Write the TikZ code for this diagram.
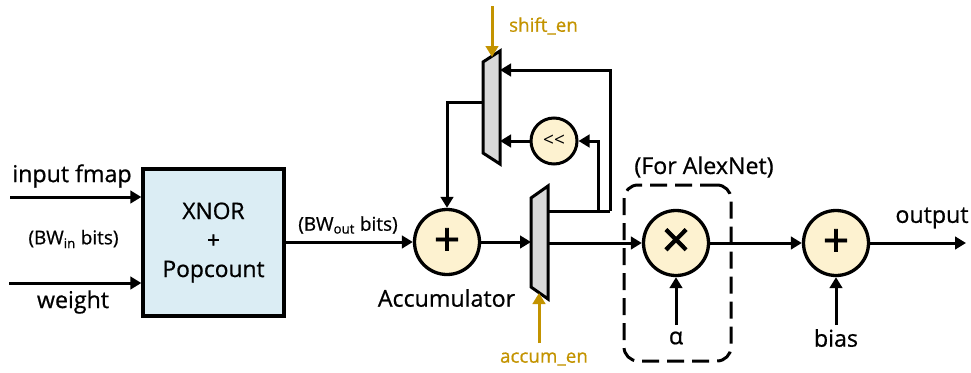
\documentclass[tikz,border=0pt]{standalone}
\usepackage{fontspec}
\setmainfont{Open Sans}
\newfontfamily\medf{Open Sans}[FakeBold=0.7]
\newfontfamily\symf{Open Sans}[FakeBold=1.6]
\usetikzlibrary{arrows.meta,calc}
\definecolor{gold}{HTML}{C39300}
\definecolor{cream}{HTML}{FDF2D0}
\definecolor{lblue}{HTML}{DBEDF4}
\definecolor{mgray}{HTML}{D9D9D9}
\tikzset{
  x=1pt,y=-1pt,
  wire/.style={line width=3pt,-{Triangle[length=11pt,width=12.5pt]}},
  plain/.style={line width=3pt},
  goldwire/.style={line width=3pt,draw=gold,-{Triangle[length=11pt,width=12.5pt]}},
  opcirc/.style={circle,draw,line width=3.3pt,fill=cream,minimum size=65pt,inner sep=0pt},
  muxshape/.style={draw,line width=3pt,fill=mgray,line join=miter},
  lblm/.style={inner sep=0pt,font=\medf\fontsize{23.2}{26}\selectfont},
  small/.style={inner sep=0pt,font=\medf\fontsize{19}{22}\selectfont},
  en/.style={inner sep=0pt,text=gold,font=\medf\fontsize{18.8}{22}\selectfont},
}
\begin{document}
\begin{tikzpicture}
\useasboundingbox (0,0) rectangle (971,372);
% core block
\node[draw,line width=3.3pt,fill=lblue,minimum width=141pt,minimum height=147pt,inner sep=0pt,
      align=center,font=\medf\fontsize{22.8}{29}\selectfont] (core) at (213.5,242.5) {XNOR\\+\\Popcount};
% operators
\node[opcirc,font=\symf\fontsize{46}{46}\selectfont] (add1) at (447,242) {+};
\node[opcirc,font=\symf\fontsize{50}{50}\selectfont] (mul) at (676,243) {×};
\node[opcirc,font=\symf\fontsize{46}{46}\selectfont] (add2) at (836,243) {+};
\node[circle,draw,line width=3pt,fill=cream,minimum size=46pt,inner sep=0pt,font=\fontsize{19}{19}\selectfont] (shift) at (554,141) {<{}<};
% muxes
\coordinate (m1a) at (483,62); \coordinate (m1b) at (500,51);
\coordinate (m1c) at (500,164); \coordinate (m1d) at (483,153);
\draw[muxshape] (m1a) -- (m1b) -- (m1c) -- (m1d) -- cycle;
\coordinate (m2a) at (531,198); \coordinate (m2b) at (548,186);
\coordinate (m2c) at (548,299); \coordinate (m2d) at (531,287);
\draw[muxshape] (m2a) -- (m2b) -- (m2c) -- (m2d) -- cycle;
% free ends and junctions
\coordinate (in1) at (10,197); \coordinate (in2) at (9,283);
\coordinate (out) at (966,243);
\coordinate (m1out) at (483,102);
\coordinate (m1in1) at (500,70);
\coordinate (m2outu) at (548,211);
\coordinate (m2in) at (531,242);
\coordinate (m2out) at (548,243);
\coordinate (tap) at (598,211);
\coordinate (fb) at (610,211);
\coordinate (alphaend) at (676,325);
\coordinate (biasend) at (836,325);
\coordinate (shiften) at (492,6);
\coordinate (shifttip) at (492,57);
\coordinate (accumen) at (539,343);
\coordinate (accumtip) at (539,293);
% labels
\node[lblm] (t1) at (72,176) {input fmap};
\node[lblm] (t2) at (73,302) {weight};
\node[small] (t3) at (73.5,239) {(BW\textsubscript{in} bits)};
\node[small] (t4) at (348,225) {(BW\textsubscript{out} bits)};
\node[lblm] (t5) at (446.5,298) {Accumulator};
\node[lblm] (t6) at (704,167) {(For AlexNet)};
\node[lblm] (t7) at (932,218) {output};
\node[lblm] (t8) at (676,338) {α};
\node[lblm] (t9) at (836,338) {bias};
\node[en] (t10) at (543.5,26) {shift\_en};
\node[en] (t11) at (544,359) {accum\_en};
% dashed group
\node[draw,line width=3pt,dash pattern=on 17pt off 8pt,rounded corners=14pt,minimum width=107pt,minimum height=176pt,inner sep=0pt] (grp) at (677.5,273) {};
% connectors
\draw[wire] (in1) -- (in1 -| core.west);
\draw[wire] (in2) -- (in2 -| core.west);
\draw[wire] (core.east |- add1.west) -- (add1.west);
\draw[wire] (add1.east) -- (m2in);
\draw[wire] (m2out) -- (mul.west);
\draw[wire] (mul.east) -- (add2.west);
\draw[wire] (add2.east) -- (out);
\draw[wire] (alphaend) -- (mul.south);
\draw[wire] (biasend) -- (add2.south);
\draw[plain] (m2outu) -- (fb);
\draw[wire] (fb) |- (m1in1);
\draw[wire] (tap) |- (shift.east);
\draw[wire] (shift.west) -- (shift.west -| m1b);
\draw[wire] (m1out) -| (add1.north);
\draw[goldwire] (shiften) -- (shifttip);
\draw[goldwire] (accumen) -- (accumtip);
\end{tikzpicture}
\end{document}
